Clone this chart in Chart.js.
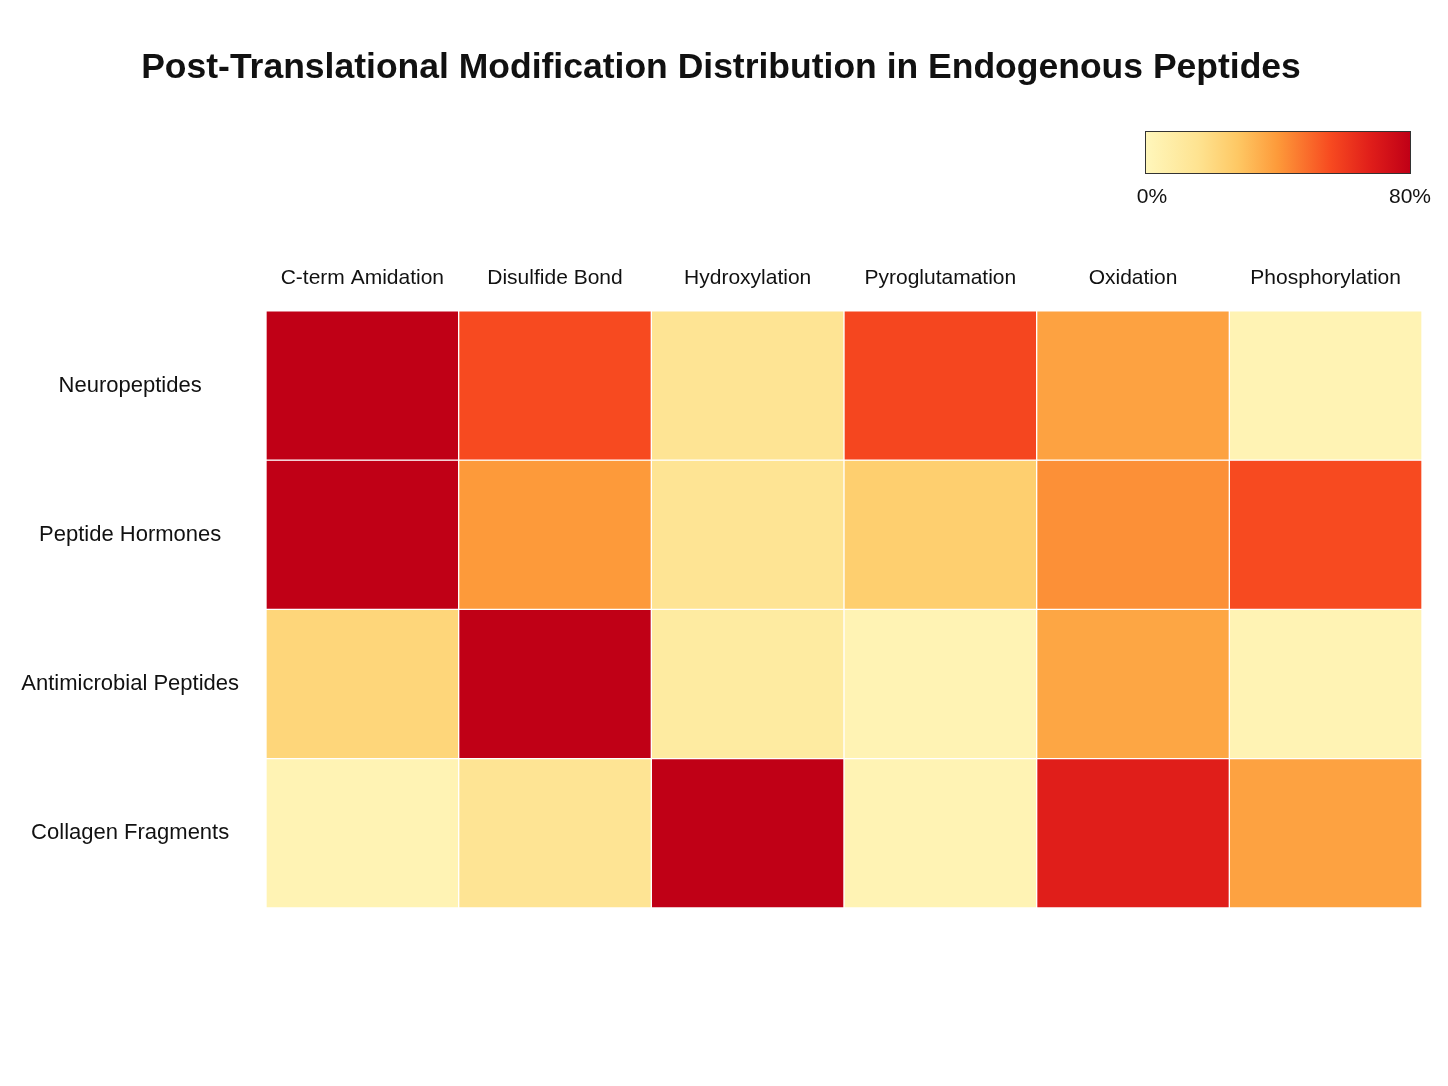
<!DOCTYPE html>
<html>
<head>
<meta charset="utf-8">
<script src="https://cdn.jsdelivr.net/npm/chart.js@4.4.1/dist/chart.umd.min.js"></script>
<style>
  html, body { margin: 0; padding: 0; background: #fff; }
  #wrap { width: 1448px; height: 1086px; }
</style>
</head>
<body>
<div id="wrap"><canvas id="chart"></canvas></div>
<script>
const modifications = ['C-term Amidation', 'Disulfide Bond', 'Hydroxylation', 'Pyroglutamation', 'Oxidation', 'Phosphorylation'];
const peptideClasses = ['Neuropeptides', 'Peptide Hormones', 'Antimicrobial Peptides', 'Collagen Fragments'];

// percent of peptides carrying each modification
const neuropeptides = [80, 56, 15, 57, 38, 3];
const peptideHormones = [80, 40, 15, 25, 42, 56];
const antimicrobialPeptides = [22, 80, 10, 3, 37, 3];
const collagenFragments = [3, 15, 80, 3, 68, 38];

const rows = [neuropeptides, peptideHormones, antimicrobialPeptides, collagenFragments];
const maxValue = 80;
const colorbarTicks = ['0%', '80%'];

const FONT = "'Liberation Sans', Arial, sans-serif";

const stops = [
    [0.00, [255, 247, 188]],
    [0.20, [254, 227, 145]],
    [0.35, [254, 200, 100]],
    [0.50, [253, 154, 58]],
    [0.70, [247, 74, 32]],
    [0.85, [224, 30, 26]],
    [1.00, [192, 0, 22]]
];

function colorFor(v) {
    const t = Math.max(0, Math.min(1, v / maxValue));
    for (let i = 1; i < stops.length; i++) {
        if (t <= stops[i][0]) {
            const [t0, c0] = stops[i - 1];
            const [t1, c1] = stops[i];
            const f = (t - t0) / (t1 - t0);
            const c = c0.map((a, k) => Math.round(a + (c1[k] - a) * f));
            return `rgb(${c[0]}, ${c[1]}, ${c[2]})`;
        }
    }
    const c = stops[stops.length - 1][1];
    return `rgb(${c[0]}, ${c[1]}, ${c[2]})`;
}

const datasets = rows.map((values, r) => ({
    label: peptideClasses[r],
    data: values.map(() => [r, r + 1]),
    backgroundColor: values.map(v => colorFor(v)),
    borderColor: '#ffffff',
    borderWidth: 1,
    borderSkipped: false,
    barPercentage: 1,
    categoryPercentage: 1,
    grouped: false
}));

const colorbarPlugin = {
    id: 'colorbar',
    afterDraw(chart) {
        const ctx = chart.ctx;
        const x = 1145, y = 131, w = 265, h = 42;
        const grad = ctx.createLinearGradient(x, 0, x + w, 0);
        stops.forEach(([t, c]) => grad.addColorStop(t, `rgb(${c[0]}, ${c[1]}, ${c[2]})`));
        ctx.save();
        ctx.fillStyle = grad;
        ctx.fillRect(x, y, w, h);
        ctx.strokeStyle = '#333';
        ctx.lineWidth = 1;
        ctx.strokeRect(x + 0.5, y + 0.5, w, h);
        ctx.fillStyle = '#111';
        ctx.font = `21px ${FONT}`;
        ctx.textAlign = 'center';
        ctx.textBaseline = 'middle';
        ctx.fillText(colorbarTicks[0], x + 7, 197);
        ctx.fillText(colorbarTicks[1], x + w, 197);
        ctx.restore();
    }
};

new Chart(document.getElementById('chart'), {
    type: 'bar',
    data: { labels: modifications, datasets },
    plugins: [colorbarPlugin],
    options: {
        responsive: true,
        maintainAspectRatio: false,
        animation: false,
        layout: {
            padding: { top: 47, right: 26, bottom: 178, left: 20 }
        },
        plugins: {
            legend: { display: false },
            tooltip: {
                callbacks: {
                    label: (item) => `${peptideClasses[item.datasetIndex]}: ${rows[item.datasetIndex][item.dataIndex]}%`
                }
            },
            title: {
                display: true,
                text: 'Post-Translational Modification Distribution in Endogenous Peptides',
                color: '#111',
                font: { size: 35.5, weight: 'bold', family: FONT },
                padding: { top: 0, bottom: 156 }
            }
        },
        scales: {
            x: {
                position: 'top',
                grid: { display: false, drawTicks: false },
                border: { display: false },
                ticks: {
                    color: '#111',
                    padding: 20,
                    maxRotation: 0,
                    autoSkip: false,
                    font: { size: 21, family: FONT }
                }
            },
            y: {
                type: 'linear',
                min: 0,
                max: peptideClasses.length,
                reverse: true,
                grid: { display: false, drawTicks: false },
                border: { display: false },
                afterBuildTicks: (axis) => {
                    axis.ticks = peptideClasses.map((_, i) => ({ value: i + 0.5 }));
                },
                afterFit: (axis) => {
                    axis.width = 246;
                },
                ticks: {
                    color: '#111',
                    padding: 27,
                    crossAlign: 'center',
                    font: { size: 22, family: FONT },
                    callback: (value) => peptideClasses[Math.floor(value)]
                }
            }
        }
    }
});
</script>
</body>
</html>
